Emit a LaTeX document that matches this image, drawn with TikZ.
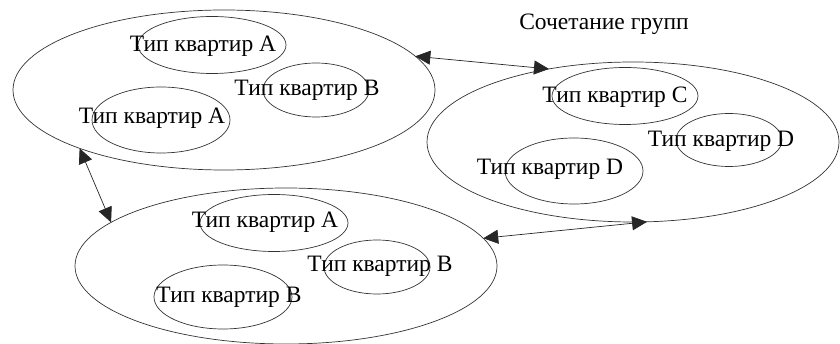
\documentclass[tikz,border=0pt]{standalone}
\usepackage{fontspec}
\setmainfont{Liberation Serif}
\usetikzlibrary{shapes.geometric,arrows.meta}
\tikzset{
  ring/.style={draw=black!80, line width=0.7pt, ellipse, inner sep=0pt, outer sep=0pt},
  lbl/.style={inner sep=0pt, font=\fontsize{23.5}{26}\selectfont},
  link/.style={draw=black!85, line width=0.7pt, {Triangle[length=15pt,width=14pt]}-{Triangle[length=15pt,width=14pt]}}
}
\begin{document}
\begin{tikzpicture}[x=1pt,y=-1pt]
\useasboundingbox (0,0) rectangle (840,344);
% big groups
\node[ring, minimum width=422pt, minimum height=160pt] (g1) at (224,90) {};
\node[ring, minimum width=412pt, minimum height=160pt] (g2) at (633,142) {};
\node[ring, minimum width=422pt, minimum height=156pt] (g3) at (286,266) {};
% inner ellipses group 1
\node[ring, minimum width=148pt, minimum height=57pt] (a1) at (212,45) {};
\node[ring, minimum width=106pt, minimum height=54pt] (b1) at (316,90) {};
\node[ring, minimum width=138pt, minimum height=66pt] (a2) at (161,120) {};
% inner ellipses group 2
\node[ring, minimum width=146pt, minimum height=57pt] (c1) at (625,96) {};
\node[ring, minimum width=106pt, minimum height=53pt] (d1) at (729,140) {};
\node[ring, minimum width=138pt, minimum height=66pt] (d2) at (574,171) {};
% inner ellipses group 3
\node[ring, minimum width=148pt, minimum height=57pt] (a3) at (274,223) {};
\node[ring, minimum width=106pt, minimum height=54pt] (b2) at (377,267) {};
\node[ring, minimum width=138pt, minimum height=64pt] (b3) at (223,297) {};
% labels
\node[lbl] (ta1) at (203,46) {Тип квартир А};
\node[lbl] (tb1) at (307,90) {Тип квартир В};
\node[lbl] (ta2) at (152,118) {Тип квартир А};
\node[lbl] (tc1) at (615,97) {Тип квартир С};
\node[lbl] (td1) at (721,141) {Тип квартир D};
\node[lbl] (td2) at (550,169) {Тип квартир D};
\node[lbl] (ta3) at (265,222) {Тип квартир А};
\node[lbl] (tb2) at (380,266) {Тип квартир В};
\node[lbl] (tb3) at (229,297) {Тип квартир В};
\node[lbl] (title) at (604,24) {Сочетание групп};
% connectors
\draw[link] (g1.10.7) -- (g2.139.3);
\draw[link] (g1.202) -- (g3.166);
\draw[link] (g2.-80) -- (g3.8.1);
\end{tikzpicture}
\end{document}
